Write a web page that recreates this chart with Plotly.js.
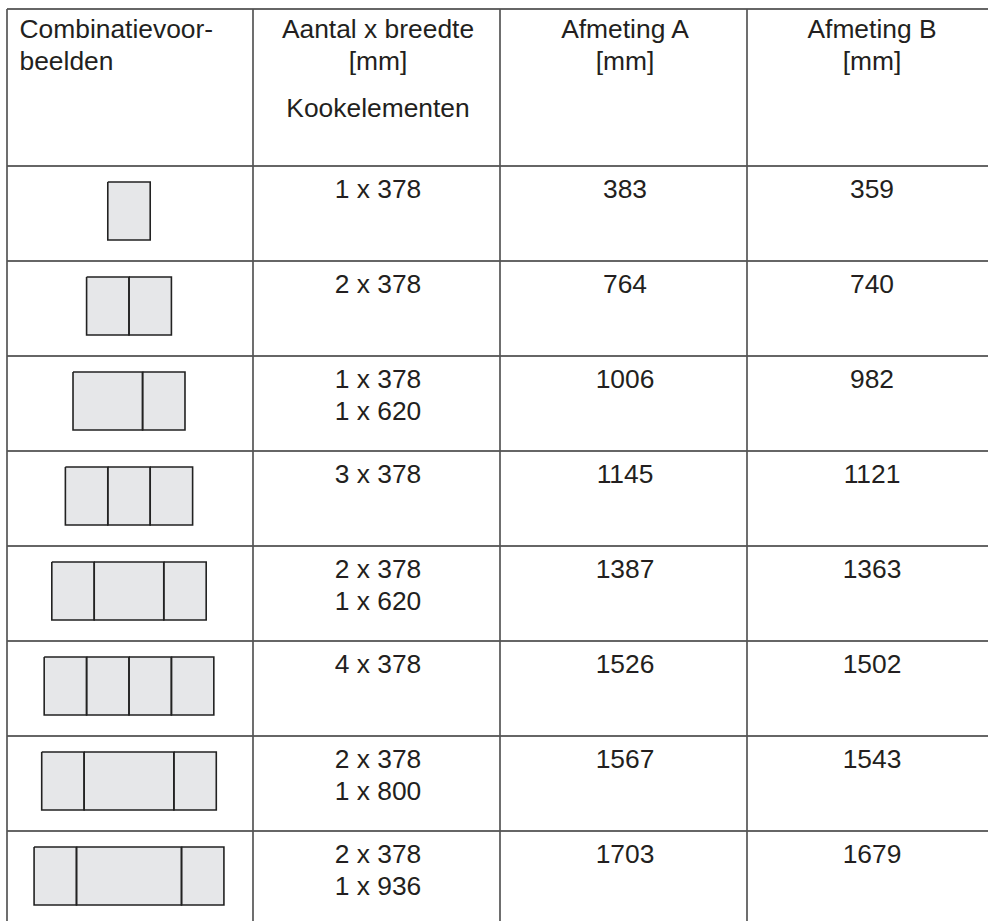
<!DOCTYPE html>
<html><head><meta charset="utf-8">
<script src="https://cdn.plot.ly/plotly-3.0.1.min.js"></script>
<style>html,body{margin:0;padding:0;background:#fff;overflow:hidden}#chart{width:988px;height:921px}</style>
</head><body><div id="chart"></div>
<script>
// ---- data ----
const headerLines = [["Combinatievoor-", "beelden"], ["Aantal x breedte", "[mm]"], ["Afmeting A", "[mm]"], ["Afmeting B", "[mm]"]];
const subHeader = "Kookelementen";
const elementWidths = [[378], [378, 378], [620, 378], [378, 378, 378], [378, 620, 378], [378, 378, 378, 378], [378, 800, 378], [378, 936, 378]];
const aantalBreedte = [["1 x 378"], ["2 x 378"], ["1 x 378", "1 x 620"], ["3 x 378"], ["2 x 378", "1 x 620"], ["4 x 378"], ["2 x 378", "1 x 800"], ["2 x 378", "1 x 936"]];
const afmetingA = [383, 764, 1006, 1145, 1387, 1526, 1567, 1703];
const afmetingB = [359, 740, 982, 1121, 1363, 1502, 1543, 1679];

// ---- layout constants ----
const W = 988, H = 921;
const tableLeft = 7, tableTop = 9, colWidths = [246, 247, 247, 247], headerH = 157, rowH = 95;
const FS = 26.4, LINE = 31.7, HEAD_BASE = 32, ROW_BASE = 34.5, MID = 0.35 * FS;
const picTop = 16, picH = 58, pxPerMm = 0.1122, picCenter = 129;

const colX = [tableLeft];
colWidths.forEach(w => colX.push(colX[colX.length - 1] + w));
const rowY = [tableTop, tableTop + headerH];
for (let i = 1; i <= afmetingA.length; i++) rowY.push(tableTop + headerH + i * rowH);
const colCenter = i => (colX[i] + colX[i + 1]) / 2 + 1.5;

// grid lines
const hx = [], hy = [], vx = [], vy = [];
rowY.slice(0, afmetingA.length + 1).forEach(y => { hx.push(tableLeft, W + 20, null); hy.push(y, y, null); });
colX.slice(0, 4).forEach(x => { vx.push(x, x, null); vy.push(tableTop, H + 20, null); });

// pictograms (in mm on x2)
const px = [], py = [];
elementWidths.forEach((ws, i) => {
  const total = ws.reduce((a, b) => a + b, 0);
  let x0 = -total / 2;
  const y0 = rowY[i + 1] + picTop, y1 = y0 + picH;
  ws.forEach(w => {
    px.push(x0, x0 + w, x0 + w, x0, x0, null);
    py.push(y0, y0, y1, y1, y0, null);
    x0 += w;
  });
});

// texts
const cx = [], cy = [], ct = [];
function addC(x, base, t) { cx.push(x); cy.push(base - MID); ct.push(t); }
for (let c = 1; c < 4; c++) headerLines[c].forEach((t, k) => addC(colCenter(c), tableTop + HEAD_BASE + k * LINE, t));
addC(colCenter(1), tableTop + 110.3, subHeader);
afmetingA.forEach((v, i) => {
  const top = rowY[i + 1];
  aantalBreedte[i].forEach((t, k) => addC(colCenter(1), top + ROW_BASE + k * LINE, t));
  addC(colCenter(2), top + ROW_BASE, String(v));
  addC(colCenter(3), top + ROW_BASE, String(afmetingB[i]));
});
const lx = [], ly = [], lt = [];
headerLines[0].forEach((t, k) => { lx.push(tableLeft + 12.5); ly.push(tableTop + HEAD_BASE + k * LINE - MID); lt.push(t); });

const font = {family: '"Liberation Sans", Arial, Helvetica, sans-serif', size: FS, color: '#231f20'};
const R = 2 * picCenter / pxPerMm;

const traces = [
  {type: 'scatter', mode: 'lines', x: hx, y: hy, line: {color: '#333333', width: 1.5}, hoverinfo: 'skip', showlegend: false},
  {type: 'scatter', mode: 'lines', x: vx, y: vy, line: {color: '#555555', width: 1.7}, hoverinfo: 'skip', showlegend: false},
  {type: 'scatter', mode: 'text', x: cx, y: cy, text: ct, textposition: 'middle center', textfont: font, hoverinfo: 'skip', showlegend: false, cliponaxis: false},
  {type: 'scatter', mode: 'text', x: lx, y: ly, text: lt, textposition: 'middle right', textfont: font, hoverinfo: 'skip', showlegend: false, cliponaxis: false},
  {type: 'scatter', mode: 'lines', x: px, y: py, xaxis: 'x2', yaxis: 'y', fill: 'toself', fillcolor: '#e6e7e9',
   line: {color: '#222222', width: 1.6}, hoverinfo: 'skip', showlegend: false}
];

const layout = {
  width: W, height: H, margin: {l: 0, r: 0, t: 0, b: 0, pad: 0},
  paper_bgcolor: '#fff', plot_bgcolor: 'rgba(0,0,0,0)', showlegend: false,
  xaxis: {range: [0, W], visible: false, fixedrange: true},
  yaxis: {range: [H, 0], visible: false, fixedrange: true},
  xaxis2: {domain: [0, 2 * picCenter / W], range: [-R / 2, R / 2], anchor: 'y', visible: false, fixedrange: true}
};
Plotly.newPlot('chart', traces, layout, {displayModeBar: false, staticPlot: true});
</script></body></html>
